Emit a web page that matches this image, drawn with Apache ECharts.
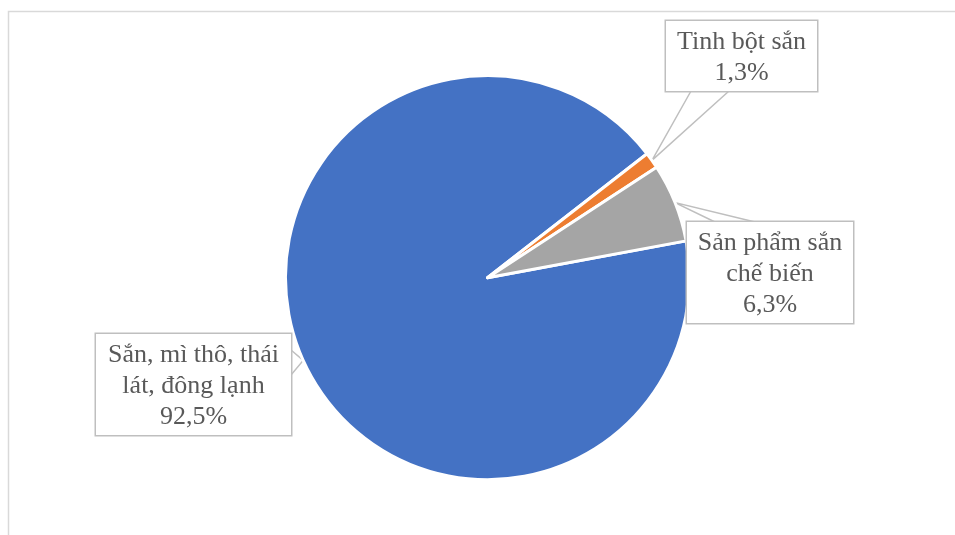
<!DOCTYPE html>
<html>
<head>
<meta charset="utf-8">
<script src="https://cdn.jsdelivr.net/npm/echarts@6/dist/echarts.min.js"></script>
<style>
html,body{margin:0;padding:0;background:#fff;}
#c{width:955px;height:535px;}
</style>
</head>
<body>
<div id="c"></div>
<script>
const categories = ['Sắn, mì thô, thái lát, đông lạnh', 'Tinh bột sắn', 'Sản phẩm sắn chế biến'];
const labelNames = ['Sắn, mì thô, thái\nlát, đông lạnh', 'Tinh bột sắn', 'Sản phẩm sắn\nchế biến'];
const values = [92.5, 1.3, 6.3];
const colors = ['#4472C4', '#ED7D31', '#A5A5A5'];

// callout boxes: center x, top y, content width, and wedge base points relative to box
const boxes = [
  { cx: 193.5, top: 334, w: 179, side: 'right', a: 16, b: 41 },
  { cx: 741.5, top: 21, w: 135, side: 'bottom', a: 25, b: 63 },
  { cx: 770, top: 222, w: 150, side: 'top', a: 28, b: 68 }
];
const PAD_T = 6, PAD_B = 2, PAD_H = 8, LH = 31;

const chart = echarts.init(document.getElementById('c'), null, { renderer: 'canvas' });

const data = categories.map((n, i) => ({
  name: n, value: values[i],
  itemStyle: { color: colors[i] },
  label: { width: boxes[i].w }
}));

chart.setOption({
  animation: false,
  backgroundColor: '#ffffff',
  graphic: [{
    type: 'rect',
    shape: { x: 8.5, y: 11.5, width: 1000, height: 600 },
    style: { fill: 'none', stroke: '#D9D9D9', lineWidth: 1.5 },
    silent: true
  }],
  series: [{
    type: 'pie',
    center: [487.5, 277.7],
    radius: 202,
    startAngle: 10.5,
    clockwise: true,
    avoidLabelOverlap: false,
    data: data,
    itemStyle: { borderColor: '#ffffff', borderWidth: 3 },
    label: {
      show: true,
      position: 'outside',
      formatter: p => labelNames[p.dataIndex] + '\n' + p.value.toFixed(1).replace('.', ',') + '%',
      fontFamily: '"Liberation Serif", "Times New Roman", serif',
      fontSize: 26,
      lineHeight: LH,
      color: '#595959',
      backgroundColor: '#ffffff',
      borderColor: '#BFBFBF',
      borderWidth: 1.5,
      padding: [PAD_T, PAD_H, PAD_B, PAD_H],
      overflow: 'none',
      align: 'center'
    },
    labelLine: {
      show: true,
      smooth: false,
      lineStyle: { color: '#BFBFBF', width: 1.5 }
    },
    labelLayout: function (params) {
      const bx = boxes[params.dataIndex];
      const lines = params.dataIndex === 1 ? 2 : 3;
      const boxW = bx.w + 2 * PAD_H;
      const boxH = lines * LH + PAD_T + PAD_B;
      const left = bx.cx - boxW / 2;
      const top = bx.top;
      const tip = params.labelLinePoints ? params.labelLinePoints[0] : null;
      let pts;
      if (tip) {
        if (bx.side === 'bottom') {
          pts = [[left + bx.a, top + boxH], tip, [left + bx.b, top + boxH]];
        } else if (bx.side === 'top') {
          pts = [[left + bx.a, top], tip, [left + bx.b, top]];
        } else {
          pts = [[left + boxW, top + bx.a], tip, [left + boxW, top + bx.b]];
        }
      }
      const out = { x: bx.cx, y: top, align: 'center', verticalAlign: 'top' };
      if (pts) out.labelLinePoints = pts;
      return out;
    }
  }]
});
</script>
</body>
</html>
